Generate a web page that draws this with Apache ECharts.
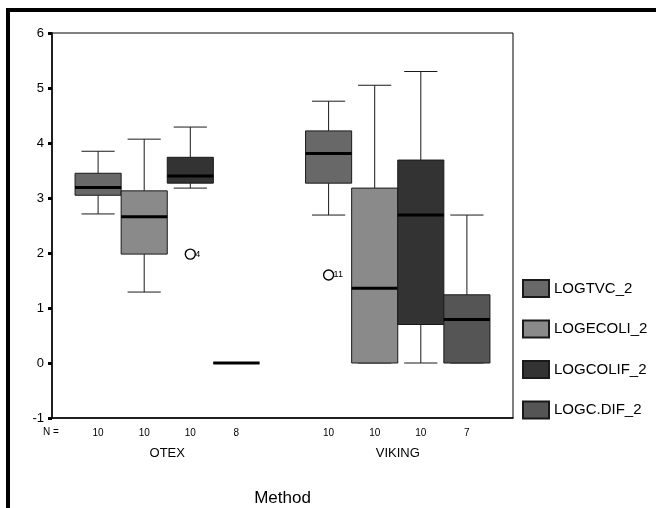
<!DOCTYPE html>
<html>
<head>
<meta charset="utf-8">
<script src="https://cdn.jsdelivr.net/npm/echarts@6/dist/echarts.min.js"></script>
<style>
  html, body { margin: 0; padding: 0; background: #fff; }
  #chart { width: 656px; height: 508px; }
</style>
</head>
<body>
<div id="chart"></div>
<script>
const methods = ['OTEX', 'VIKING'];
const seriesNames = ['LOGTVC_2', 'LOGECOLI_2', 'LOGCOLIF_2', 'LOGC.DIF_2'];

// [min, q1, median, q3, max] for OTEX, VIKING
const logtvc = [[2.71, 3.05, 3.19, 3.45, 3.85], [2.69, 3.27, 3.81, 4.22, 4.76]];
const logecoli = [[1.29, 1.98, 2.66, 3.13, 4.07], [0, 0, 1.36, 3.18, 5.05]];
const logcolif = [[3.18, 3.27, 3.40, 3.74, 4.29], [0, 0.70, 2.69, 3.69, 5.30]];
const logcdif = [[0, 0, 0, 0, 0], [0, 0, 0.79, 1.24, 2.69]];

// N per method
const nTvc = [10, 10];
const nEcoli = [10, 10];
const nColif = [10, 10];
const nCdif = [8, 7];

// [method index, series index, value, case number]
const outliers = [[0, 2, 1.98, '4'], [1, 0, 1.60, '11']];

const boxStats = [logtvc, logecoli, logcolif, logcdif];
const boxCounts = [nTvc, nEcoli, nColif, nCdif];
const colors = ['#686868', '#8a8a8a', '#333333', '#555555'];

const FONT = 'Liberation Sans, Arial, sans-serif';

function boxGeom(api, cat, idx) {
  const band = api.size([1, 0])[0];
  const w = band * 0.2;
  const cx = api.coord([cat, 0])[0] + (idx - 1.5) * w;
  return { w, cx };
}

function renderBox(params, api) {
  const cat = api.value(0);
  const { w, cx } = boxGeom(api, cat, params.seriesIndex);
  const y = v => api.coord([cat, v])[1];
  const yMin = y(api.value(1));
  const yQ1 = y(api.value(2));
  const yMed = y(api.value(3));
  const yQ3 = y(api.value(4));
  const yMax = y(api.value(5));
  const cap = w * 0.72;
  const lineStyle = { stroke: '#1a1a1a', lineWidth: 1 };
  return {
    type: 'group',
    children: [
      { type: 'line', shape: { x1: cx, y1: yQ3, x2: cx, y2: yMax }, style: lineStyle },
      { type: 'line', shape: { x1: cx - cap / 2, y1: yMax, x2: cx + cap / 2, y2: yMax }, style: lineStyle },
      { type: 'line', shape: { x1: cx, y1: yQ1, x2: cx, y2: yMin }, style: lineStyle },
      { type: 'line', shape: { x1: cx - cap / 2, y1: yMin, x2: cx + cap / 2, y2: yMin }, style: lineStyle },
      {
        type: 'rect',
        shape: { x: cx - w / 2, y: yQ3, width: w, height: yQ1 - yQ3 },
        style: { fill: api.visual('color'), stroke: '#1a1a1a', lineWidth: 1 }
      },
      { type: 'line', shape: { x1: cx - w / 2, y1: yMed, x2: cx + w / 2, y2: yMed }, style: { stroke: '#000', lineWidth: 3 } },
      {
        type: 'text',
        style: {
          x: cx, y: y(-1) + 15, text: String(api.value(6)),
          fill: '#000', font: '10px ' + FONT, align: 'center', verticalAlign: 'middle'
        }
      }
    ]
  };
}

function renderOutlier(params, api) {
  const cat = api.value(0);
  const { cx } = boxGeom(api, cat, api.value(1));
  const cy = api.coord([cat, api.value(2)])[1];
  return {
    type: 'group',
    children: [
      { type: 'circle', shape: { cx: cx, cy: cy, r: 5 }, style: { fill: '#fff', stroke: '#000', lineWidth: 1.4 } },
      {
        type: 'text',
        style: {
          x: cx + 5, y: cy, text: outliers[params.dataIndex][3],
          fill: '#000', font: '9px ' + FONT, align: 'left', verticalAlign: 'middle'
        }
      }
    ]
  };
}

const series = seriesNames.map((name, i) => ({
  name: name,
  type: 'custom',
  renderItem: renderBox,
  itemStyle: { color: colors[i], borderColor: '#1a1a1a', borderWidth: 1 },
  encode: { x: 0, y: [1, 2, 3, 4, 5] },
  data: methods.map((m, c) => [c].concat(boxStats[i][c], [boxCounts[i][c]]))
}));

series.push({
  name: 'outliers',
  type: 'custom',
  renderItem: renderOutlier,
  encode: { x: 0, y: 2 },
  data: outliers.map(o => [o[0], o[1], o[2]])
});

const chart = echarts.init(document.getElementById('chart'));
chart.setOption({
  animation: false,
  backgroundColor: '#fff',
  textStyle: { fontFamily: FONT },
  grid: {
    left: 52, right: 143, top: 33, bottom: 90,
    outerBoundsMode: 'none',
    show: true, borderColor: '#000', borderWidth: 1
  },
  legend: {
    data: seriesNames,
    orient: 'vertical',
    left: 517,
    top: 274,
    itemWidth: 26,
    itemHeight: 17,
    itemGap: 21.5,
    icon: 'rect',
    textStyle: { fontSize: 15, color: '#000', fontFamily: FONT }
  },
  xAxis: {
    type: 'category',
    data: methods,
    boundaryGap: true,
    axisLine: { onZero: false, lineStyle: { color: '#000', width: 1.5 } },
    axisTick: { alignWithLabel: true, length: 3, lineStyle: { color: '#000', width: 4 } },
    axisLabel: { margin: 29, fontSize: 13, color: '#000' },
    name: 'Method',
    nameLocation: 'middle',
    nameGap: 72,
    nameTextStyle: { fontSize: 17, color: '#000' }
  },
  yAxis: {
    type: 'value',
    min: -1,
    max: 6,
    interval: 1,
    axisLine: { show: true, lineStyle: { color: '#000', width: 1.5 } },
    axisTick: { show: true, length: 4, lineStyle: { color: '#000', width: 3 } },
    axisLabel: { fontSize: 13, color: '#000', margin: 8 },
    splitLine: { show: false }
  },
  graphic: [
    { type: 'rect', shape: { x: 6, y: 8, width: 650, height: 4 }, style: { fill: '#000' } },
    { type: 'rect', shape: { x: 6, y: 8, width: 4, height: 500 }, style: { fill: '#000' } },
    {
      type: 'text', left: 43, top: 427,
      style: { text: 'N =', fill: '#000', font: '10px ' + FONT }
    }
  ],
  series: series
});
</script>
</body>
</html>
